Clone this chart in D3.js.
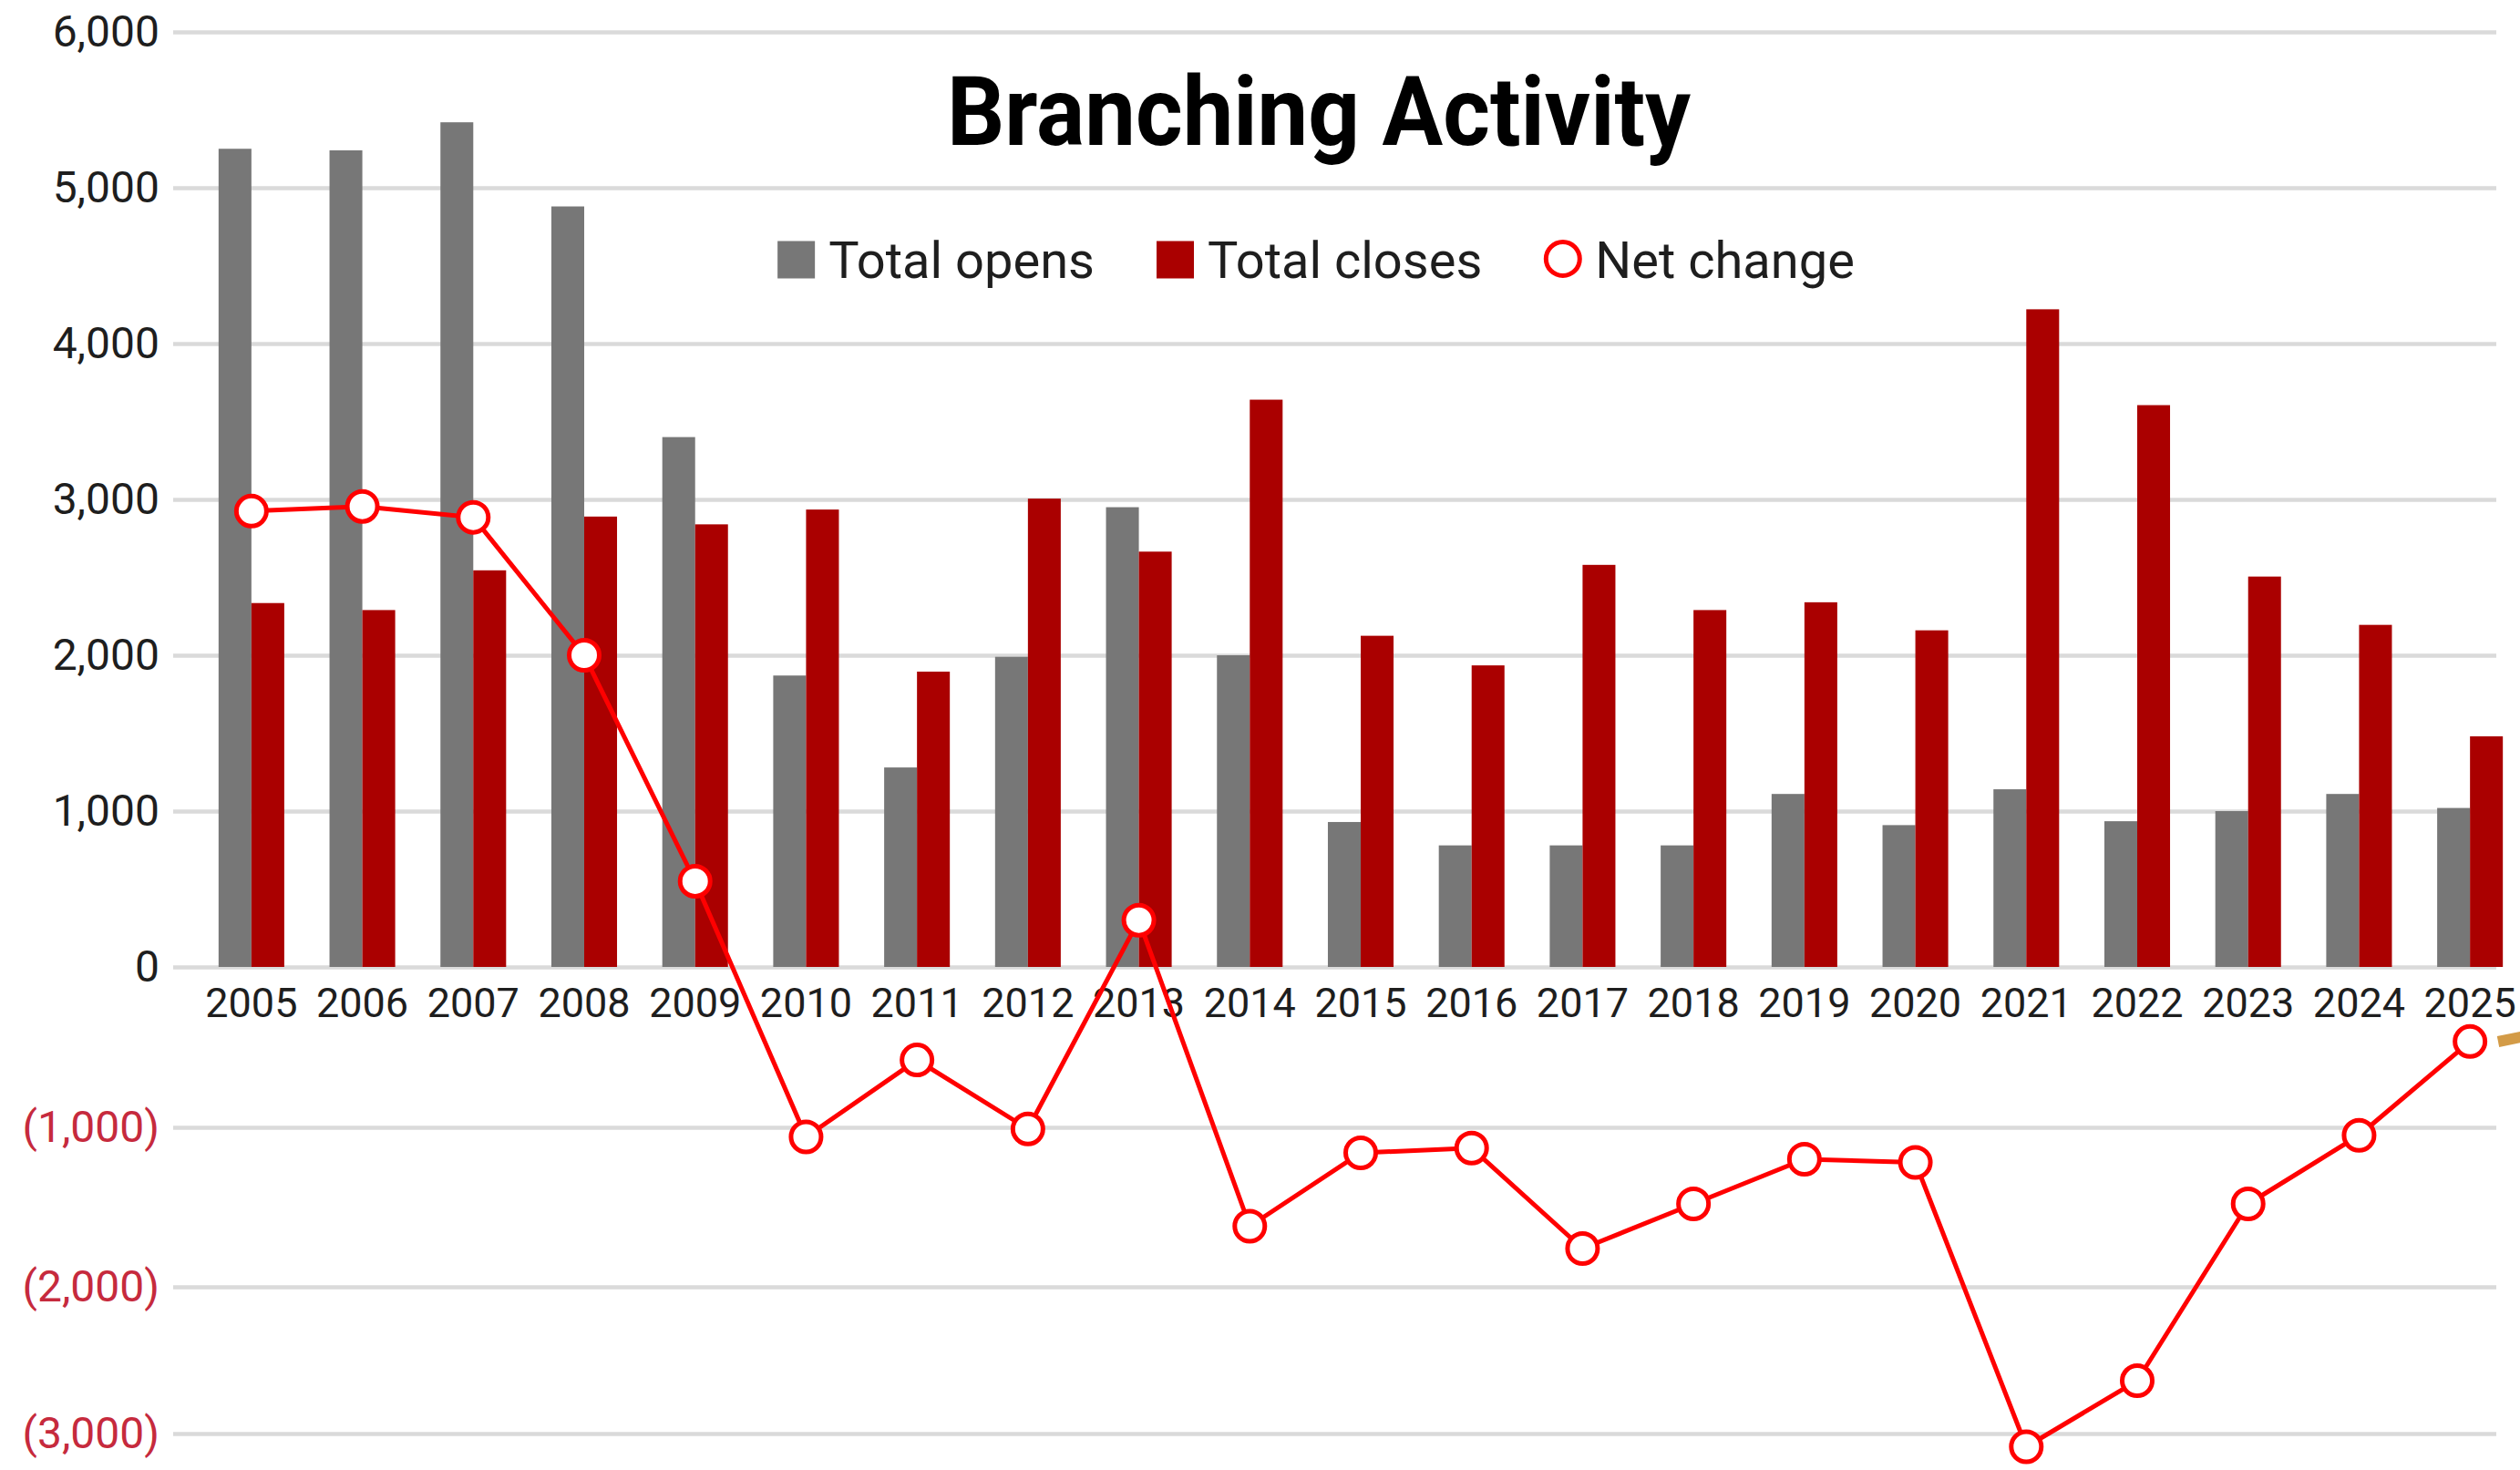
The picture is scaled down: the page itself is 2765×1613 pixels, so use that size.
<!DOCTYPE html>
<html>
<head>
<meta charset="utf-8">
<title>Branching Activity</title>
<script src="https://cdn.jsdelivr.net/npm/d3@7"></script>
<style>
  html, body { margin: 0; padding: 0; background: #ffffff; }
  svg { display: block; font-family: Roboto, "Noto Sans", sans-serif; }
</style>
</head>
<body>
<svg id="chart" width="2765" height="1613"></svg>
<script>
// Yearly branch openings, closings and the resulting net change
const years = ["2005","2006","2007","2008","2009","2010","2011","2012","2013","2014","2015",
               "2016","2017","2018","2019","2020","2021","2022","2023","2024","2025"];
const totalOpens  = [5250, 5240, 5420, 4880, 3400, 1870, 1280, 1990, 2950, 2000, 930,
                     780, 780, 780, 1110, 910, 1140, 935, 1000, 1110, 1020];
const totalCloses = [2335, 2290, 2545, 2890, 2840, 2935, 1895, 3005, 2665, 3640, 2125,
                     1935, 2580, 2290, 2340, 2160, 4220, 3605, 2505, 2195, 1480];
const netChange   = [2925, 2955, 2885, 2000, 550, -1060, -580, -1010, 300, -1620, -1160,
                     -1130, -1760, -1480, -1200, -1220, -3090, -2640, -1480, -1050, -465];
const yTicks = [6000, 5000, 4000, 3000, 2000, 1000, 0, -1000, -2000, -3000];
const seriesNames = ["Total opens", "Total closes", "Net change"];
const chartTitle = "Branching Activity";

const COLORS = { opens: "#777777", closes: "#aa0000", net: "#ff0000", grid: "#dadada",
                 text: "#1e1e1e", negText: "#c62a3d", accent: "#d39b47" };

const svg = d3.select("#chart");
const gridLeft = 190, gridRight = 2739;

// Category scale: one band per year, split into two bars
const x = d3.scaleBand().domain(years).range([215, 2771]).paddingInner(0.408).paddingOuter(0.204);
const xSub = d3.scaleBand().domain(["opens", "closes"]).range([0, x.bandwidth()]);

// Value scale (the lower, negative section is spaced slightly differently)
const y = d3.scaleLinear()
  .domain([-3000, -2000, -1000, 0, 6000])
  .range([1573, 1412, 1237, 1061, 35]);

const fmt = d3.format(",");
const tickFmt = v => v < 0 ? `(${fmt(-v)})` : fmt(v);

// Gridlines and value labels
const yAxis = svg.append("g")
  .attr("transform", `translate(${gridLeft},0)`)
  .call(d3.axisLeft(y).tickValues(yTicks).tickFormat(tickFmt)
        .tickSize(-(gridRight - gridLeft)).tickPadding(15));
yAxis.select(".domain").remove();
yAxis.selectAll(".tick line").attr("stroke", COLORS.grid).attr("stroke-width", 4.5);
yAxis.selectAll(".tick text")
  .attr("font-size", 48)
  .attr("font-family", "Roboto")
  .attr("fill", d => d < 0 ? COLORS.negText : COLORS.text);

// Bars
const groups = svg.append("g").selectAll("g")
  .data(years.map((yr, i) => ({ yr, opens: totalOpens[i], closes: totalCloses[i] })))
  .join("g")
  .attr("transform", d => `translate(${x(d.yr)},0)`);

groups.selectAll("rect")
  .data(d => [{ key: "opens", v: d.opens }, { key: "closes", v: d.closes }])
  .join("rect")
  .attr("x", d => xSub(d.key))
  .attr("width", xSub.bandwidth())
  .attr("y", d => y(d.v))
  .attr("height", d => y(0) - y(d.v))
  .attr("fill", d => COLORS[d.key]);

// Year labels
const xAxis = svg.append("g")
  .attr("transform", `translate(0,${y(0)})`)
  .call(d3.axisBottom(x).tickSize(0).tickPadding(23));
xAxis.select(".domain").remove();
xAxis.selectAll(".tick text")
  .attr("font-size", 45)
  .attr("font-family", "Roboto")
  .attr("fill", COLORS.text);

// Net change line with hollow markers
const cx = (yr) => x(yr) + x.bandwidth() / 2;
const netPts = years.map((yr, i) => ({ yr, v: netChange[i] }));
svg.append("path")
  .datum(netPts)
  .attr("fill", "none")
  .attr("stroke", COLORS.net)
  .attr("stroke-width", 5)
  .attr("stroke-linejoin", "round")
  .attr("d", d3.line().x(d => cx(d.yr)).y(d => y(d.v)));
svg.append("g").selectAll("circle")
  .data(netPts)
  .join("circle")
  .attr("cx", d => cx(d.yr))
  .attr("cy", d => y(d.v))
  .attr("r", 16.5)
  .attr("fill", "#ffffff")
  .attr("stroke", COLORS.net)
  .attr("stroke-width", 5);

// Legend, centred under the title
const legend = svg.append("g").attr("transform", "translate(0,285)");
const swatch = 41, gapText = 15, gapItem = 68;
const items = seriesNames.map((name, i) => {
  const g = legend.append("g");
  if (i < 2) {
    g.append("rect").attr("x", 0).attr("y", -swatch / 2).attr("width", swatch).attr("height", swatch)
      .attr("fill", i === 0 ? COLORS.opens : COLORS.closes);
  } else {
    g.append("circle").attr("cx", swatch / 2).attr("cy", -1).attr("r", 18.5)
      .attr("fill", "#ffffff").attr("stroke", COLORS.net).attr("stroke-width", 5);
  }
  const t = g.append("text").attr("x", swatch + gapText).attr("y", 20)
    .attr("font-size", 56).attr("font-family", "Roboto").attr("fill", COLORS.text).text(name);
  return { g, w: swatch + gapText + t.node().getComputedTextLength() };
});
const totalW = d3.sum(items, d => d.w) + gapItem * (items.length - 1);
let cursor = 1444 - totalW / 2;
items.forEach(it => { it.g.attr("transform", `translate(${cursor},0)`); cursor += it.w + gapItem; });

// Title
svg.append("text")
  .attr("x", 1447).attr("y", 159)
  .attr("text-anchor", "middle")
  .attr("font-family", "Roboto")
  .attr("font-weight", 700)
  .attr("font-size", 106)
  .attr("textLength", 816)
  .attr("lengthAdjust", "spacingAndGlyphs")
  .attr("fill", "#000000")
  .text(chartTitle);

// Edge of an annotation stroke entering from the right
svg.append("line")
  .attr("x1", 2741).attr("y1", 1143).attr("x2", 2800).attr("y2", 1131)
  .attr("stroke", COLORS.accent).attr("stroke-width", 12);
</script>
</body>
</html>
